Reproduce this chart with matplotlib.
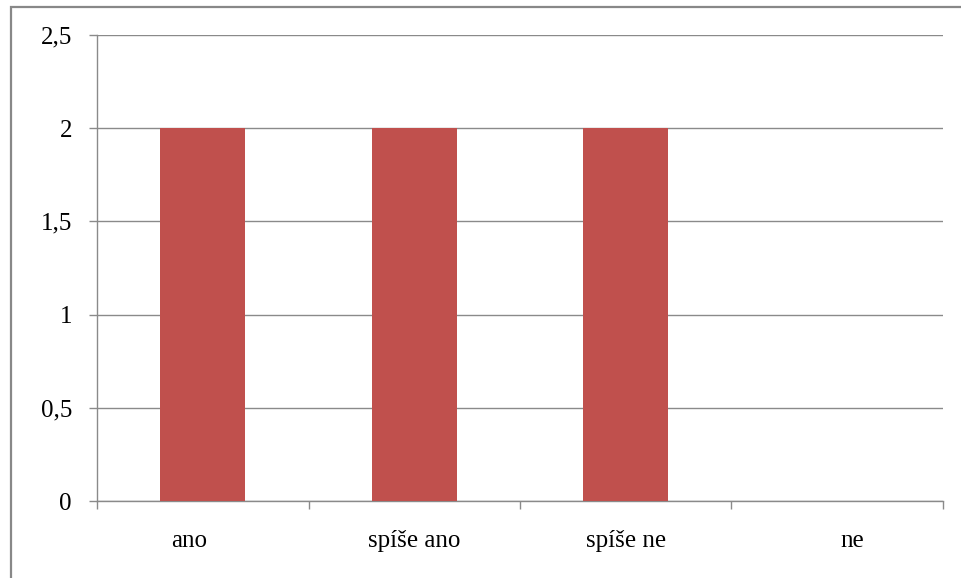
import matplotlib.pyplot as plt
import matplotlib.transforms as mtransforms
from matplotlib.patches import Rectangle
from matplotlib.ticker import FixedLocator, FuncFormatter

# answer categories and counts
categories = ['ano', 'spíše ano', 'spíše ne', 'ne']
counts = [2, 2, 2, 0]
y_ticks = [0, 0.5, 1, 1.5, 2, 2.5]

plt.rcParams['font.family'] = ['Liberation Serif', 'DejaVu Serif']

fig = plt.figure(figsize=(9.62, 5.78), dpi=100)
ax = fig.add_axes([97 / 962, 1 - 501 / 578, 846 / 962, 466 / 578])

grey = '#8a8a8a'
x = range(len(categories))
ax.bar(x, counts, width=0.4, color='#C0504D', zorder=3)

ax.set_xlim(-0.5, len(categories) - 0.5)
ax.set_ylim(0, 2.5)
ax.set_yticks(y_ticks)
ax.yaxis.set_major_formatter(FuncFormatter(lambda v, p: ('%g' % v).replace('.', ',')))
ax.grid(axis='y', color=grey, linewidth=1, zorder=0)

# category labels centred, tick marks on the boundaries
ax.set_xticks(list(x))
ax.set_xticklabels(categories)
ax.xaxis.set_minor_locator(FixedLocator([i - 0.5 for i in range(len(categories) + 1)]))
ax.tick_params(axis='x', which='major', length=0, pad=21, labelsize=18)
ax.tick_params(axis='x', which='minor', length=6, width=1, color=grey)
ax.tick_params(axis='y', length=6, width=1, color=grey, pad=12, labelsize=18)

# outer labels sit a little further out
labels = ax.get_xticklabels()
for lab, dx in [(labels[0], -14), (labels[-1], 15)]:
    lab.set_transform(lab.get_transform() +
                      mtransforms.ScaledTranslation(dx / 100, 0, fig.dpi_scale_trans))

for side in ['top', 'right']:
    ax.spines[side].set_visible(False)
for side in ['left', 'bottom']:
    ax.spines[side].set_color(grey)
    ax.spines[side].set_linewidth(1)

# outer chart border
fig.patches.append(Rectangle((10.5 / 962, -0.1), 1.2, 1.1 - 7.5 / 578,
                             transform=fig.transFigure, fill=False,
                             edgecolor='#888888', linewidth=1.6))

fig.savefig('out.png', dpi=100)
